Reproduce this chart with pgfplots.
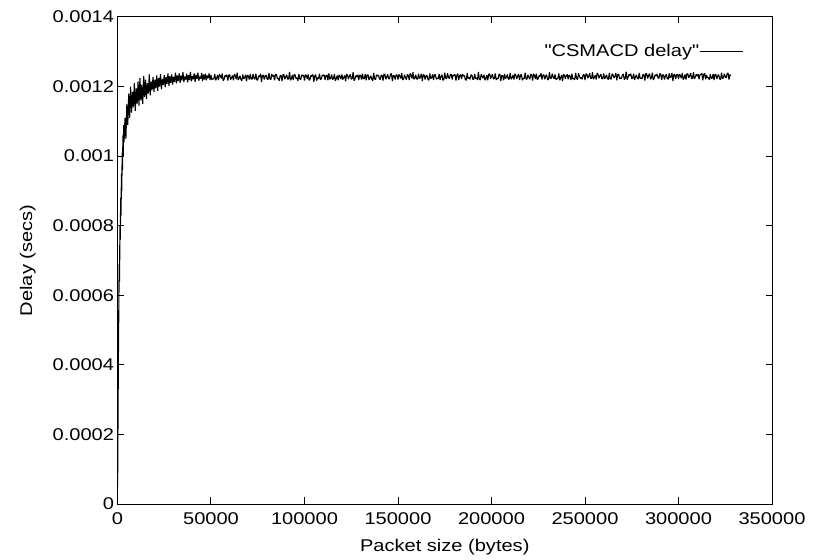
\documentclass[border=0pt]{standalone}
\usepackage{pgfplots}
\pgfplotsset{compat=1.18}
\usepackage{fontspec}
\setmainfont{Liberation Sans}[FakeStretch=1.18]
% no TeX ligature mapping here, so " stays a straight quote
\newfontfamily\plainsans{Liberation Sans}[FakeStretch=1.18]

\pgfplotstableread{
x y
64 0.000049
300 0.000270
500 0.000430
700 0.000560
900 0.000690
1100 0.000640
1300 0.000800
1500 0.000760
1700 0.000880
1900 0.000830
2100 0.000950
2300 0.000900
2500 0.001010
2700 0.000960
2900 0.001060
3100 0.001000
3300 0.001090
3500 0.001040
4000 0.001110
4500 0.001050
5000 0.001150
5500 0.001090
6000 0.001180
6500 0.001110
7000 0.001200
7500 0.001125
8000 0.001185
8500 0.001140
9000 0.001210
9500 0.001130
10000 0.001195
10500 0.001150
11000 0.001215
11500 0.001145
12000 0.001225
12500 0.001160
13000 0.001205
13500 0.001150
14000 0.001230
14500 0.001170
15000 0.001220
15500 0.001165
16000 0.001210
16500 0.001180
17000 0.001235
17500 0.001175
18000 0.001215
18500 0.001190
19000 0.001228
19500 0.001185
20000 0.001220
20500 0.001195
21000 0.001232
21500 0.001188
22000 0.001225
22500 0.001200
23000 0.001236
23500 0.001192
24000 0.001222
24500 0.001205
25000 0.001233
25500 0.001198
26000 0.001228
26500 0.001208
27000 0.001238
27500 0.001202
28000 0.001230
28500 0.001210
29000 0.001235
29500 0.001206
30000 0.001228
30500 0.001214
31000 0.001240
31500 0.001209
32000 0.001232
32500 0.001216
33000 0.001238
33500 0.001211
34000 0.001231
34500 0.001218
35000 0.001241
35500 0.001213
36000 0.001229
36500 0.001220
37000 0.001237
37500 0.001212
38000 0.001233
38500 0.001219
39000 0.001242
39500 0.001215
40000 0.001230
40500 0.001221
41000 0.001238
41500 0.001214
42000 0.001234
42500 0.001222
43000 0.001240
43500 0.001217
44000 0.001229
44500 0.001223
45000 0.001239
45500 0.001216
46000 0.001235
46500 0.001220
47000 0.001237
47500 0.001218
48000 0.001232
48500 0.001224
49000 0.001238
49500 0.001219
50000 0.001233
50500 0.001220
51000 0.001222
51500 0.001222
52000 0.001236
52500 0.001218
53000 0.001224
53500 0.001233
54000 0.001219
54500 0.001235
55000 0.001231
55500 0.001223
56000 0.001238
56500 0.001217
57000 0.001221
57500 0.001232
58000 0.001229
58500 0.001234
59000 0.001217
59500 0.001233
60000 0.001234
60500 0.001220
61000 0.001225
61500 0.001232
62000 0.001218
62500 0.001236
63000 0.001232
63500 0.001221
64000 0.001240
64500 0.001219
65000 0.001223
65500 0.001231
66000 0.001220
66500 0.001217
67000 0.001235
67500 0.001222
68000 0.001226
68500 0.001234
69000 0.001215
69500 0.001233
70000 0.001230
70500 0.001220
71000 0.001236
71500 0.001222
72000 0.001221
72500 0.001236
73000 0.001224
73500 0.001221
74000 0.001237
74500 0.001219
75000 0.001219
75500 0.001231
76000 0.001228
76500 0.001237
77000 0.001213
77500 0.001232
78000 0.001233
78500 0.001220
79000 0.001231
79500 0.001233
80000 0.001222
80500 0.001220
81000 0.001239
81500 0.001222
82000 0.001220
82500 0.001236
83000 0.001229
83500 0.001233
84000 0.001218
84500 0.001235
85000 0.001235
85500 0.001223
86000 0.001224
86500 0.001217
87000 0.001232
87500 0.001232
88000 0.001216
88500 0.001234
89000 0.001234
89500 0.001221
90000 0.001228
90500 0.001234
91000 0.001221
91500 0.001222
92000 0.001242
92500 0.001218
93000 0.001223
93500 0.001233
94000 0.001219
94500 0.001235
95000 0.001233
95500 0.001223
96000 0.001225
96500 0.001217
97000 0.001236
97500 0.001222
98000 0.001220
98500 0.001234
99000 0.001230
99500 0.001233
100000 0.001217
100500 0.001234
101000 0.001232
101500 0.001222
102000 0.001235
102500 0.001218
103000 0.001221
103500 0.001233
104000 0.001229
104500 0.001235
105000 0.001214
105500 0.001231
106000 0.001234
106500 0.001217
107000 0.001226
107500 0.001222
108000 0.001237
108500 0.001220
109000 0.001222
109500 0.001233
110000 0.001231
110500 0.001234
111000 0.001219
111500 0.001232
112000 0.001233
112500 0.001218
113000 0.001238
113500 0.001221
114000 0.001224
114500 0.001235
115000 0.001220
115500 0.001223
116000 0.001236
116500 0.001217
117000 0.001223
117500 0.001232
118000 0.001218
118500 0.001234
119000 0.001229
119500 0.001221
120000 0.001235
120500 0.001220
121000 0.001226
121500 0.001232
122000 0.001215
122500 0.001236
123000 0.001233
123500 0.001221
124000 0.001230
124500 0.001235
125000 0.001221
125500 0.001223
126000 0.001241
126500 0.001217
127000 0.001222
127500 0.001232
128000 0.001228
128500 0.001234
129000 0.001219
129500 0.001233
130000 0.001232
130500 0.001220
131000 0.001237
131500 0.001222
132000 0.001223
132500 0.001236
133000 0.001218
133500 0.001233
134000 0.001234
134500 0.001219
135000 0.001225
135500 0.001231
136000 0.001221
136500 0.001217
137000 0.001239
137500 0.001222
138000 0.001220
138500 0.001234
139000 0.001230
139500 0.001233
140000 0.001224
140500 0.001220
141000 0.001233
141500 0.001232
142000 0.001217
142500 0.001236
143000 0.001235
143500 0.001221
144000 0.001228
144500 0.001235
145000 0.001222
145500 0.001223
146000 0.001236
146500 0.001237
147000 0.001216
147500 0.001232
148000 0.001231
148500 0.001220
149000 0.001234
149500 0.001233
150000 0.001220
150500 0.001235
151000 0.001230
151500 0.001223
152000 0.001239
152500 0.001219
153000 0.001222
153500 0.001234
154000 0.001226
154500 0.001220
155000 0.001235
155500 0.001232
156000 0.001219
156500 0.001238
157000 0.001233
157500 0.001223
158000 0.001241
158500 0.001221
159000 0.001224
159500 0.001234
160000 0.001222
160500 0.001221
161000 0.001237
161500 0.001223
162000 0.001227
162500 0.001237
163000 0.001216
163500 0.001234
164000 0.001233
164500 0.001220
165000 0.001231
165500 0.001232
166000 0.001221
166500 0.001218
167000 0.001238
167500 0.001223
168000 0.001225
168500 0.001235
169000 0.001219
169500 0.001234
170000 0.001234
170500 0.001221
171000 0.001224
171500 0.001223
172000 0.001236
172500 0.001219
173000 0.001229
173500 0.001234
174000 0.001218
174500 0.001220
175000 0.001240
175500 0.001224
176000 0.001223
176500 0.001238
177000 0.001226
177500 0.001223
178000 0.001235
178500 0.001235
179000 0.001220
179500 0.001234
180000 0.001231
180500 0.001235
181000 0.001217
181500 0.001233
182000 0.001237
182500 0.001219
183000 0.001232
183500 0.001234
184000 0.001222
184500 0.001236
185000 0.001230
185500 0.001232
186000 0.001220
186500 0.001218
187000 0.001239
187500 0.001223
188000 0.001226
188500 0.001221
189000 0.001233
189500 0.001234
190000 0.001221
190500 0.001221
191000 0.001236
191500 0.001223
192000 0.001225
192500 0.001219
193000 0.001242
193500 0.001222
194000 0.001219
194500 0.001236
195000 0.001229
195500 0.001224
196000 0.001234
196500 0.001218
197000 0.001223
197500 0.001233
198000 0.001218
198500 0.001235
199000 0.001237
199500 0.001222
200000 0.001230
200500 0.001235
201000 0.001222
201500 0.001223
202000 0.001238
202500 0.001219
203000 0.001224
203500 0.001222
204000 0.001235
204500 0.001236
205000 0.001216
205500 0.001232
206000 0.001231
206500 0.001218
207000 0.001236
207500 0.001223
208000 0.001227
208500 0.001235
209000 0.001221
209500 0.001222
210000 0.001239
210500 0.001221
211000 0.001225
211500 0.001233
212000 0.001220
212500 0.001237
213000 0.001233
213500 0.001222
214000 0.001230
214500 0.001236
215000 0.001219
215500 0.001232
216000 0.001235
216500 0.001218
217000 0.001224
217500 0.001223
218000 0.001240
218500 0.001221
219000 0.001222
219500 0.001234
220000 0.001226
220500 0.001221
221000 0.001236
221500 0.001233
222000 0.001217
222500 0.001237
223000 0.001232
223500 0.001222
224000 0.001237
224500 0.001220
225000 0.001223
225500 0.001232
226000 0.001229
226500 0.001238
227000 0.001220
227500 0.001233
228000 0.001234
228500 0.001221
229000 0.001231
229500 0.001234
230000 0.001219
230500 0.001221
231000 0.001241
231500 0.001223
232000 0.001224
232500 0.001237
233000 0.001227
233500 0.001222
234000 0.001235
234500 0.001220
235000 0.001222
235500 0.001224
236000 0.001238
236500 0.001218
237000 0.001225
237500 0.001233
238000 0.001216
238500 0.001235
239000 0.001233
239500 0.001222
240000 0.001232
240500 0.001235
241000 0.001221
241500 0.001233
242000 0.001230
242500 0.001219
243000 0.001237
243500 0.001222
244000 0.001223
244500 0.001220
245000 0.001239
245500 0.001224
246000 0.001220
246500 0.001238
247000 0.001231
247500 0.001223
248000 0.001226
248500 0.001221
249000 0.001234
249500 0.001234
250000 0.001219
250500 0.001236
251000 0.001236
251500 0.001224
252000 0.001230
252500 0.001238
253000 0.001224
253500 0.001223
254000 0.001241
254500 0.001221
255000 0.001226
255500 0.001233
256000 0.001220
256500 0.001239
257000 0.001235
257500 0.001224
258000 0.001231
258500 0.001236
259000 0.001222
259500 0.001223
260000 0.001238
260500 0.001222
261000 0.001227
261500 0.001234
262000 0.001223
262500 0.001220
263000 0.001239
263500 0.001223
264000 0.001221
264500 0.001237
265000 0.001233
265500 0.001225
266000 0.001230
266500 0.001239
267000 0.001218
267500 0.001234
268000 0.001236
268500 0.001222
269000 0.001225
269500 0.001223
270000 0.001234
270500 0.001236
271000 0.001220
271500 0.001224
272000 0.001243
272500 0.001220
273000 0.001226
273500 0.001235
274000 0.001231
274500 0.001237
275000 0.001222
275500 0.001225
276000 0.001237
276500 0.001219
277000 0.001228
277500 0.001234
278000 0.001223
278500 0.001222
279000 0.001239
279500 0.001223
280000 0.001225
280500 0.001222
281000 0.001235
281500 0.001234
282000 0.001217
282500 0.001238
283000 0.001236
283500 0.001223
284000 0.001232
284500 0.001237
285000 0.001221
285500 0.001225
286000 0.001240
286500 0.001219
287000 0.001224
287500 0.001234
288000 0.001230
288500 0.001236
289000 0.001226
289500 0.001223
290000 0.001237
290500 0.001236
291000 0.001219
291500 0.001234
292000 0.001233
292500 0.001220
293000 0.001231
293500 0.001235
294000 0.001223
294500 0.001221
295000 0.001238
295500 0.001225
296000 0.001228
296500 0.001239
297000 0.001216
297500 0.001234
298000 0.001235
298500 0.001222
299000 0.001234
299500 0.001235
300000 0.001222
300500 0.001236
301000 0.001232
301500 0.001224
302000 0.001239
302500 0.001220
303000 0.001225
303500 0.001235
304000 0.001220
304500 0.001237
305000 0.001236
305500 0.001225
306000 0.001231
306500 0.001239
307000 0.001223
307500 0.001224
308000 0.001241
308500 0.001222
309000 0.001227
309500 0.001235
310000 0.001230
310500 0.001236
311000 0.001221
311500 0.001234
312000 0.001235
312500 0.001238
313000 0.001218
313500 0.001235
314000 0.001238
314500 0.001221
315000 0.001233
315500 0.001225
316000 0.001226
316500 0.001219
317000 0.001236
317500 0.001224
318000 0.001224
318500 0.001236
319000 0.001219
319500 0.001235
320000 0.001235
320500 0.001222
321000 0.001231
321500 0.001234
322000 0.001222
322500 0.001220
323000 0.001240
323500 0.001223
324000 0.001225
324500 0.001237
325000 0.001228
325500 0.001225
326000 0.001237
326500 0.001239
327000 0.001220
327500 0.001234
328000 0.001232
}\delaydata

\begin{document}
\begin{tikzpicture}
\begin{axis}[
 scale only axis,width=654.5bp,height=487bp,
 xmin=0,xmax=350000,ymin=0,ymax=0.0014,
 xtick={0,50000,100000,150000,200000,250000,300000,350000},
 xticklabels={0,50000,100000,150000,200000,250000,300000,350000},
 ytick={0,0.0002,0.0004,0.0006,0.0008,0.001,0.0012,0.0014},
 yticklabels={0,0.0002,0.0004,0.0006,0.0008,0.001,0.0012,0.0014},
 scaled x ticks=false,scaled y ticks=false,
 tick align=inside,major tick length=6.5bp,
 axis line style={line width=1bp},
 every tick/.style={black,line width=1bp},
 tick label style={font=\fontsize{17bp}{20bp}\selectfont},
 xticklabel style={yshift=-5bp},
 label style={font=\fontsize{17bp}{20bp}\selectfont},
 xlabel={Packet size (bytes)},ylabel={Delay (secs)},
 xlabel style={at={(axis description cs:0.5,-0.098)},anchor=base},
 ylabel style={at={(axis description cs:-0.1306,0.5)},anchor=base},
 legend plot pos=right,
 legend style={draw=none,fill=none,inner sep=0pt,outer sep=0pt,
  at={(axis description cs:0.9557,0.9302)},anchor=east,
  font=\plainsans\fontsize{17bp}{20bp}\selectfont,
  nodes={inner sep=0pt},
  /tikz/every even column/.append style={column sep=4bp}},
 legend image code/.code={\draw[line width=0.8bp] (0bp,0bp) -- (43bp,0bp);},
]
\addplot[black,line width=1.1bp,line join=bevel] table[x=x,y=y] {\delaydata};
\addlegendentry{"CSMACD delay"}
\end{axis}
\path (current axis.south west) ++(-117.5bp,-56bp) rectangle ++(813bp,560bp);
\end{tikzpicture}
\end{document}
